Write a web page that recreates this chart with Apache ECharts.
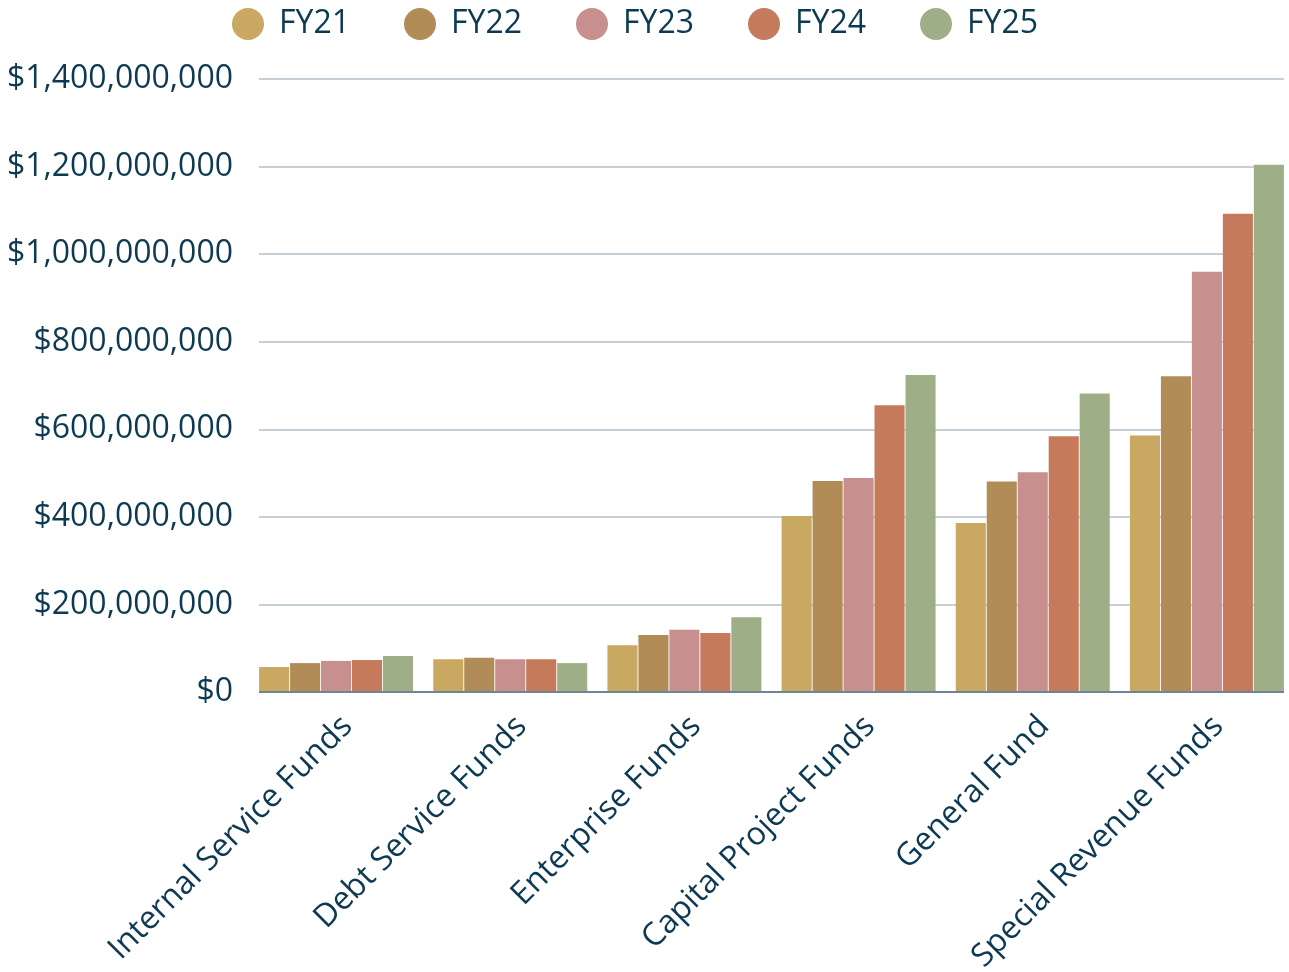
<!DOCTYPE html>
<html><head><meta charset="utf-8">
<script src="https://cdn.jsdelivr.net/npm/echarts@6/dist/echarts.min.js"></script>
<style>html,body{margin:0;padding:0;background:#fff}#c{width:1289px;height:972px}</style>
</head><body><div id="c"></div>
<script>
const categories = ["Internal Service Funds","Debt Service Funds","Enterprise Funds","Capital Project Funds","General Fund","Special Revenue Funds"];
const seriesNames = ["FY21","FY22","FY23","FY24","FY25"];
const FY21 = [57000000, 75000000, 107000000, 402000000, 386000000, 586000000];
const FY22 = [66000000, 78000000, 130000000, 482000000, 481000000, 721000000];
const FY23 = [71000000, 75000000, 142000000, 489000000, 502000000, 960000000];
const FY24 = [73000000, 75000000, 135000000, 655000000, 584000000, 1092000000];
const FY25 = [82000000, 66000000, 171000000, 724000000, 682000000, 1204000000];
const seriesValues = [FY21, FY22, FY23, FY24, FY25];
const colors = ["#c9a862","#b18c57","#c78f8d","#c67a5c","#9eae87"];
const textColor = "#0d3a52";

const chart = echarts.init(document.getElementById('c'), null, {renderer:'canvas'});
const fmt = v => '$' + v.toLocaleString('en-US');
chart.setOption({
  animation:false,
  color: colors,
  textStyle:{fontFamily:'"Open Sans", "Noto Sans", sans-serif'},
  legend:{
    top: 8, left: 232, padding:0, itemWidth: 32, itemHeight: 32, itemGap: 54, icon:'circle',
    data: seriesNames,
    textStyle:{fontSize:32, color:textColor, padding:[0,0,0,10], fontFamily:'"Open Sans", sans-serif'}
  },
  grid:[
    {left:259, width:1025, top:79, bottom:280, outerBoundsMode:'none', containLabel:false},
    {left:249, width:1045, top:79, bottom:280, outerBoundsMode:'none', containLabel:false}
  ],
  xAxis:[
    {type:'category', gridIndex:0, data:categories, show:false},
    {type:'category', gridIndex:1, data:categories,
     axisLine:{show:false}, axisTick:{show:false},
     axisLabel:{rotate:45, fontSize:32, color:textColor, margin:18, interval:0,
       verticalAlign:'top', fontFamily:'"Open Sans", sans-serif'}}
  ],
  yAxis:[
    {type:'value', gridIndex:0, min:0, max:1400000000, interval:200000000,
     axisLine:{show:false}, axisTick:{show:false},
     splitLine:{lineStyle:{color:'#c5cfd7', width:2}},
     axisLabel:{fontSize:32, color:textColor, margin:26, formatter:fmt, fontFamily:'"Open Sans", sans-serif'}},
    {type:'value', gridIndex:1, min:0, max:1400000000, interval:200000000, show:false, splitLine:{show:false}}
  ],
  series: seriesNames.map((n,i)=>({
    name:n, type:'bar', xAxisIndex:1, yAxisIndex:1, data:seriesValues[i],
    barGap:'3%', barCategoryGap:'11.6%',
    itemStyle:{color:colors[i]}
  })).concat([{
    type:'line', xAxisIndex:0, yAxisIndex:0, data:[], silent:true,
    markLine:{symbol:'none', silent:true, label:{show:false},
      lineStyle:{color:'#6f8596', width:2, type:'solid'}, data:[{yAxis:0}]}
  }])
});
</script></body></html>
